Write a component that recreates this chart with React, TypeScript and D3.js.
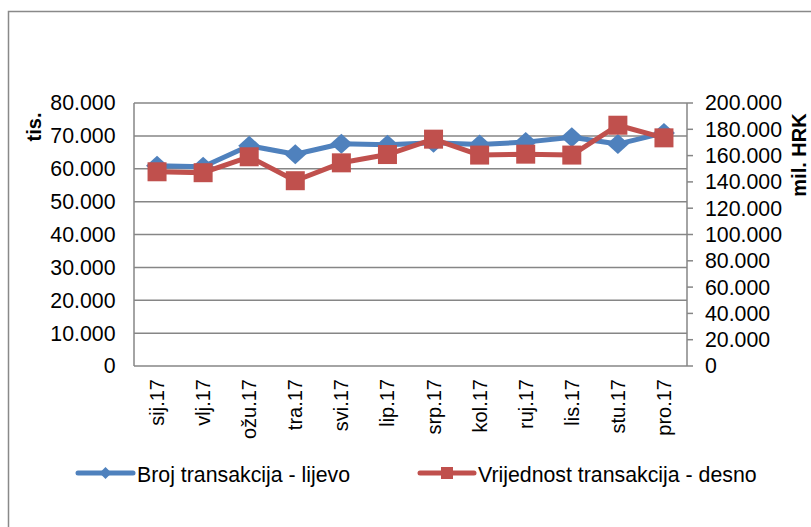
import React from "react";
import * as d3 from "d3";

const categories = ["sij.17", "vlj.17", "ožu.17", "tra.17", "svi.17", "lip.17", "srp.17", "kol.17", "ruj.17", "lis.17", "stu.17", "pro.17"];
const brojTransakcija = [60900, 60600, 67000, 64400, 67600, 67300, 67900, 67400, 68100, 69600, 67500, 70900];
const vrijednostTransakcija = [147700, 147000, 159100, 140900, 154500, 160800, 172500, 160400, 161100, 160400, 183100, 173500];
const leftTicks = [0, 10000, 20000, 30000, 40000, 50000, 60000, 70000, 80000];
const rightTicks = [0, 20000, 40000, 60000, 80000, 100000, 120000, 140000, 160000, 180000, 200000];
const leftTitle = "tis.";
const rightTitle = "mil. HRK";
const legendLabels = ["Broj transakcija - lijevo", "Vrijednost transakcija - desno"];

const W = 811;
const H = 527;
const plot = { left: 134, right: 687, top: 103, bottom: 366 };
const BLUE = "#4F81BD";
const RED = "#C0504D";
const GRID = "#868686";
const FONT = "'Liberation Sans', Arial, sans-serif";
const FS = 21.3;
const FS_ROT = 20;

const locale = d3.formatLocale({ decimal: ",", thousands: ".", grouping: [3], currency: ["", ""] });
const fmt = locale.format(",d");

export default function App() {
  const x = d3
    .scalePoint<string>()
    .domain(categories)
    .range([plot.left, plot.right])
    .padding(0.5);
  const yL = d3.scaleLinear().domain([0, 80000]).range([plot.bottom, plot.top]);
  const yR = d3.scaleLinear().domain([0, 200000]).range([plot.bottom, plot.top]);

  const lineL = d3
    .line<number>()
    .x((_, i) => x(categories[i]) as number)
    .y((d) => yL(d));
  const lineR = d3
    .line<number>()
    .x((_, i) => x(categories[i]) as number)
    .y((d) => yR(d));

  const diamond = (cx: number, cy: number, hw: number, hh: number) =>
    `M${cx},${cy - hh}L${cx + hw},${cy}L${cx},${cy + hh}L${cx - hw},${cy}Z`;

  const legendY = 473;

  return (
    <svg
      width={W}
      height={H}
      style={{ position: "absolute", left: 0, top: 0, background: "#fff" }}
      fontFamily={FONT}
    >
      <rect x={0} y={0} width={W} height={H} fill="#fff" />
      <rect x={8.5} y={11.5} width={W + 20} height={H + 20} fill="none" stroke="#898989" strokeWidth={1.5} />

      {/* gridlines */}
      {leftTicks.map((t) => (
        <line key={"g" + t} x1={plot.left} x2={plot.right} y1={yL(t)} y2={yL(t)} stroke={GRID} strokeWidth={1.5} />
      ))}
      <line x1={plot.left} x2={plot.left} y1={plot.top} y2={plot.bottom} stroke={GRID} strokeWidth={1.5} />
      <line x1={plot.right} x2={plot.right} y1={plot.top} y2={plot.bottom} stroke={GRID} strokeWidth={1.5} />
      {rightTicks.map((t) => (
        <line key={"rt" + t} x1={plot.right} x2={plot.right + 6} y1={yR(t)} y2={yR(t)} stroke={GRID} strokeWidth={1.5} />
      ))}

      {/* left tick labels */}
      {leftTicks.map((t) => (
        <text key={"lt" + t} x={115.5} y={yL(t)} dy="0.35em" textAnchor="end" fontSize={FS} fill="#000">
          {fmt(t)}
        </text>
      ))}
      {/* right tick labels */}
      {rightTicks.map((t) => (
        <text key={"rl" + t} x={705} y={yR(t)} dy="0.35em" textAnchor="start" fontSize={FS} fill="#000">
          {fmt(t)}
        </text>
      ))}

      {/* axis titles */}
      <text transform={`translate(34,127) rotate(-90)`} dy="0.35em" textAnchor="middle" fontSize={FS_ROT} fontWeight="bold" fill="#000">
        {leftTitle}
      </text>
      <text transform={`translate(799,155) rotate(-90)`} dy="0.35em" textAnchor="middle" fontSize={FS_ROT} fontWeight="bold" fill="#000">
        {rightTitle}
      </text>

      {/* category labels */}
      {categories.map((c) => (
        <text
          key={c}
          transform={`translate(${x(c)},379) rotate(-90)`}
          dy="0.35em"
          textAnchor="end"
          fontSize={FS_ROT}
          fill="#000"
        >
          {c}
        </text>
      ))}

      {/* blue series */}
      <path d={lineL(brojTransakcija) || ""} fill="none" stroke={BLUE} strokeWidth={5} strokeLinejoin="round" />
      {brojTransakcija.map((v, i) => (
        <path key={"bm" + i} d={diamond(x(categories[i]) as number, yL(v), 11, 10)} fill={BLUE} />
      ))}

      {/* red series */}
      <path d={lineR(vrijednostTransakcija) || ""} fill="none" stroke={RED} strokeWidth={5} strokeLinejoin="round" />
      {vrijednostTransakcija.map((v, i) => (
        <rect
          key={"rm" + i}
          x={(x(categories[i]) as number) - 9.5}
          y={yR(v) - 9.5}
          width={19}
          height={19}
          fill={RED}
        />
      ))}

      {/* legend */}
      <line x1={78} x2={133} y1={legendY} y2={legendY} stroke={BLUE} strokeWidth={5} strokeLinecap="round" />
      <path d={diamond(105.5, legendY, 6, 6)} fill={BLUE} />
      <text x={137} y={legendY + 2} dy="0.35em" fontSize={FS} fill="#000">
        {legendLabels[0]}
      </text>
      <line x1={420} x2={474} y1={legendY} y2={legendY} stroke={RED} strokeWidth={5} strokeLinecap="round" />
      <rect x={441} y={legendY - 6} width={12} height={12} fill={RED} />
      <text x={478} y={legendY + 2} dy="0.35em" fontSize={FS} fill="#000">
        {legendLabels[1]}
      </text>
    </svg>
  );
}
